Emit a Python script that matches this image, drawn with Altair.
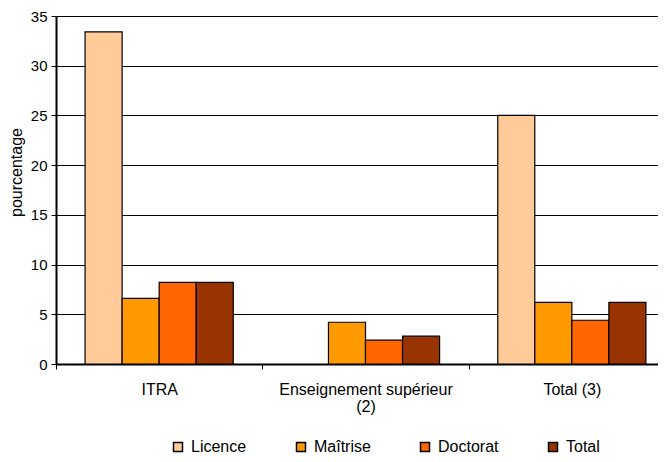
import altair as alt
import pandas as pd

categories = ["ITRA", "Enseignement supérieur|(2)", "Total (3)"]
series = ["Licence", "Maîtrise", "Doctorat", "Total"]
colors = ["#FFCC99", "#FF9900", "#FF6600", "#993300"]
licence = [33.4, 0.0, 25.0]
maitrise = [6.6, 4.2, 6.2]
doctorat = [8.2, 2.4, 4.4]
total = [8.2, 2.8, 6.2]

rows = []
for s, vals in zip(series, [licence, maitrise, doctorat, total]):
    for c, v in zip(categories, vals):
        rows.append({"cat": c, "serie": s, "val": v})
df = pd.DataFrame(rows)

font = "Liberation Sans"

chart = alt.Chart(df).mark_bar(stroke="black", strokeWidth=1.2).encode(
    x=alt.X("cat:N", sort=categories, title=None,
            scale=alt.Scale(paddingInner=0, paddingOuter=0),
            axis=alt.Axis(labelAngle=0, tickBand="extent", tickSize=5, tickColor="black",
                          domainColor="black", domainWidth=2, labelPadding=12,
                          labelExpr="split(datum.label, '|')", labelLineHeight=17,
                          labelFont=font, labelFontSize=16, labelColor="black")),
    xOffset=alt.XOffset("serie:N", sort=series,
                        scale=alt.Scale(domain=series, paddingInner=0, paddingOuter=0.785)),
    y=alt.Y("val:Q", title="pourcentage",
            scale=alt.Scale(domain=[0, 35], nice=False),
            axis=alt.Axis(values=[0, 5, 10, 15, 20, 25, 30, 35], grid=True, gridColor="black",
                          gridWidth=1, gridOpacity=1, tickSize=5, tickColor="black",
                          domainColor="black", domainWidth=2, labelPadding=4,
                          labelFont=font, labelFontSize=15, labelColor="black",
                          titleFont=font, titleFontSize=16, titleFontWeight="normal",
                          titleColor="black", titlePadding=6, titleY=156)),
    color=alt.Color("serie:N", sort=series,
                    scale=alt.Scale(domain=series, range=colors),
                    legend=alt.Legend(title=None, orient="none", direction="horizontal",
                                      legendX=114, legendY=423, symbolType="square",
                                      symbolSize=81, symbolStrokeColor="black",
                                      symbolStrokeWidth=1.5, symbolOpacity=1,
                                      labelFont=font, labelFontSize=16, labelColor="black",
                                      columnPadding=46, padding=0, labelOffset=5)),
    strokeOpacity=alt.condition("datum.val == 0", alt.value(0), alt.value(1)),
).properties(
    width=619, height=348,
    autosize=alt.AutoSizeParams(type="none"),
    padding={"left": 48, "right": -17, "top": 8, "bottom": 90},
).configure_view(stroke=None)

chart.save("out.html", embed_options={"renderer": "svg", "actions": False})
